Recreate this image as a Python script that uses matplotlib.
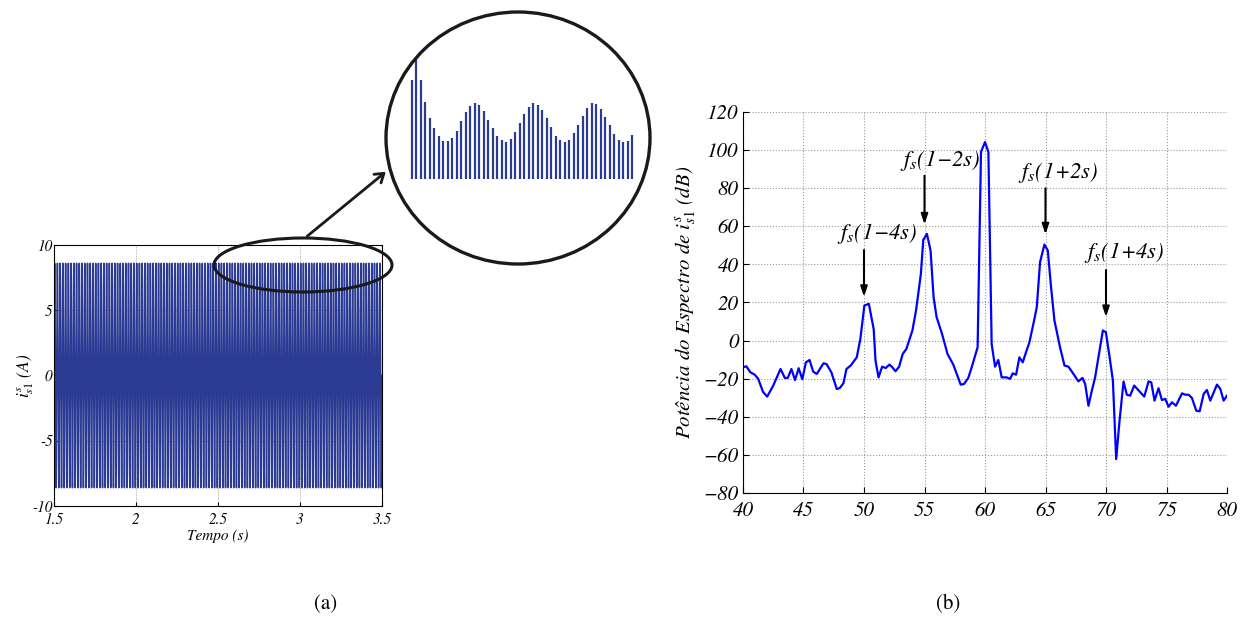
import numpy as np
import matplotlib
matplotlib.use('Agg')
import matplotlib.pyplot as plt
from matplotlib.patches import Ellipse, FancyArrowPatch

plt.rcParams['font.family'] = 'STIXGeneral'
plt.rcParams['mathtext.fontset'] = 'stix'

W, H = 1246, 622

# (a) stator current: 60 Hz supply, peak
f_supply = 60.0
i_peak = 8.6
t_start, t_end = 1.5, 3.5

# zoom inset: positive peaks of the current (relative heights)
inset_peaks = [298, 356, 296, 232, 184, 152, 128, 115, 113, 124, 144, 173, 201, 219,
               228, 221, 204, 178, 153, 130, 117, 111, 120, 141, 168, 196, 215, 228,
               223, 207, 183, 157, 130, 116, 112, 118, 137, 163, 190, 214, 227, 224,
               211, 187, 163, 136, 118, 112, 114, 133]

# (b) spectrum
freq = [40.0, 40.28, 40.6, 40.97, 41.25, 41.66, 42.0, 42.5, 43.1, 43.46, 43.7, 44.0,
        44.3, 44.6, 44.9, 45.2, 45.5, 45.8, 46.1, 46.65, 46.9, 47.3, 47.75, 48.0,
        48.3, 48.55, 48.9, 49.4, 49.7, 50.03, 50.4, 50.8, 50.95, 51.2, 51.5, 51.8,
        52.1, 52.3, 52.6, 52.9, 53.2, 53.5, 54.0, 54.3, 54.7, 54.9, 55.2, 55.5,
        55.75, 56.0, 56.45, 56.9, 57.38, 57.99, 58.26, 58.62, 58.9, 59.39, 59.67,
        60.0, 60.28, 60.55, 60.83, 61.1, 61.38, 61.79, 62.07, 62.29, 62.57, 62.84,
        63.12, 63.39, 63.67, 64.0, 64.28, 64.55, 64.91, 65.19, 65.46, 65.74, 66.2,
        66.57, 66.9, 67.31, 67.72, 68.06, 68.28, 68.55, 68.83, 69.1, 69.74, 69.99,
        70.3, 70.57, 70.84, 71.12, 71.45, 71.72, 72.0, 72.33, 72.83, 73.16, 73.52,
        73.74, 74.01, 74.34, 74.62, 74.9, 75.17, 75.45, 75.78, 76.28, 76.55, 76.83,
        77.1, 77.46, 77.74, 78.07, 78.34, 78.62, 79.17, 79.45, 79.72, 80.0]
power_db = [-14, -13.5, -16.6, -17.9, -20, -27, -29.4, -23.6, -14.9, -19.6, -19.6, -14.9,
            -20.7, -14.5, -20.3, -11.4, -10.2, -16.3, -17.5, -11.9, -12.3, -16.6, -25.4, -24.9,
            -22.4, -14.9, -13.1, -8.8, 0.9, 18.4, 19.3, 6.1, -10.5, -19.3, -13.7, -14.4,
            -12.6, -13.7, -16.1, -13.7, -7, -4.4, 5.3, 15.8, 35, 52.9, 56, 47.3,
            22.8, 12.3, 3.5, -7, -12.6, -23.1, -22.8, -19.6, -14, -3.5, 99,
            104.2, 99, -1.8, -13.7, -10.2, -19.3, -19.3, -20.1, -17.2, -17.9, -8.8,
            -11.4, -6.1, -0.9, 8.8, 17.5, 41.2, 50.4, 47.3, 28, 10.5, -3.5,
            -13.1, -13.7, -17.5, -21.4, -19.6, -22.8, -34.2, -26.3, -19.3, 5.3, 4.4,
            -8.8, -21, -62.2, -42, -21.5, -28.4, -28.9, -23.6, -27.1, -29.4, -21.4,
            -21.9, -31.5, -25, -31.2, -30.6, -34.7, -32.4, -34.2, -27.7, -28.4, -28.4,
            -30.1, -36.8, -37.1, -28, -25.9, -31.5, -23.1, -25.4, -31.5, -28.9]

# annotated sidebands: label, frequency, arrow tail, arrow tip, text x, text y
side_labels = ['(1\u22124s)', '(1\u22122s)', '(1+2s)', '(1+4s)']
side_freq = [50, 55, 65, 70]
arrow_tail = [49, 88, 81.4, 38.5]
arrow_tip = [21.5, 59.5, 54.3, 10.9]
text_x = [47.75, 53.0, 62.75, 68.2]
text_y = [56, 94.5, 88.4, 46.4]


def fig_xy(x, y):
    return x / W, 1 - y / H


fig = plt.figure(figsize=(W / 100, H / 100), dpi=100)

# ============ (a) time signal ============
ax1 = fig.add_axes([54 / W, 1 - 506 / H, 328 / W, 261 / H])
t = np.linspace(t_start, t_end, 24001)
ax1.plot(t, i_peak * np.sin(2 * np.pi * f_supply * t), color='#2b3a92', linewidth=1.1)
ax1.set_xlim(t_start, t_end)
ax1.set_ylim(-10, 10)
ax1.set_xticks([1.5, 2, 2.5, 3, 3.5])
ax1.set_xticklabels(['1.5', '2', '2.5', '3', '3.5'])
ax1.set_yticks([-10, -5, 0, 5, 10])
ax1.set_yticklabels(['-10', '-5', '0', '5', '10'])
ax1.tick_params(direction='in', labelsize=11, length=3, pad=1)
ax1.tick_params(axis='x', pad=5)
for lab in ax1.get_xticklabels() + ax1.get_yticklabels():
    lab.set_style('italic')
ax1.grid(True, color='#888888', linestyle=':', linewidth=0.6)
ax1.set_xlabel('Tempo (s)', fontsize=11, style='italic', labelpad=1)
ax1.set_ylabel(r'$i^s_{s1}$ (A)', fontsize=12.5, style='italic', labelpad=-3)

# ellipse on the plot and zoom circle
cx, cy = fig_xy(303, 265)
fig.add_artist(Ellipse((cx, cy), 178 / W, 54 / H, transform=fig.transFigure,
                       fill=False, edgecolor='#1a1a1a', linewidth=2.2))
cx, cy = fig_xy(518, 138)
fig.add_artist(Ellipse((cx, cy), 264 / W, 252 / H, transform=fig.transFigure,
                       fill=False, edgecolor='#1a1a1a', linewidth=2.4))
fig.add_artist(FancyArrowPatch(fig_xy(305, 238), fig_xy(388, 170),
                               transform=fig.transFigure, arrowstyle='->,head_length=6,head_width=4',
                               color='#1a1a1a', linewidth=2.0))

# inset with peaks
axi = fig.add_axes([407.5 / W, 1 - 179 / H, 229 / W, 140 / H])
axi.vlines(np.arange(len(inset_peaks)), 0, inset_peaks, color='#2b3a92', linewidth=1.6)
axi.set_xlim(-1, 50)
axi.set_ylim(0, 420)
axi.axis('off')

# ============ (b) spectrum ============
ax2 = fig.add_axes([743 / W, 1 - 493 / H, 484 / W, 381 / H])
ax2.plot(freq, power_db, color='#0000ff', linewidth=1.6)
ax2.set_xlim(40, 80)
ax2.set_ylim(-80, 120)
ax2.set_xticks(np.arange(40, 81, 5))
ax2.set_yticks(np.arange(-80, 121, 20))
ax2.tick_params(direction='in', labelsize=15, length=4, pad=3)
ax2.tick_params(axis='x', pad=6)
for lab in ax2.get_xticklabels() + ax2.get_yticklabels():
    lab.set_style('italic')
ax2.spines['top'].set_visible(False)
ax2.spines['right'].set_visible(False)
ax2.grid(True, color='#999999', linestyle=':', linewidth=0.8)
ax2.set_ylabel(r'Potência do Espectro de $i^s_{s1}$ (dB)', fontsize=15, style='italic', labelpad=4)

for lab, f, y0, y1, tx, ty in zip(side_labels, side_freq, arrow_tail, arrow_tip, text_x, text_y):
    ax2.annotate('', xy=(f, y1), xytext=(f, y0),
                 arrowprops=dict(arrowstyle='-|>,head_length=0.6,head_width=0.2',
                                 color='black', linewidth=1.5))
    ax2.text(tx, ty, r'$f_s$' + lab, fontsize=16.5, style='italic', va='center', ha='left')

fig.text(326 / W, 1 - 604 / H, '(a)', fontsize=15, ha='center', va='center')
fig.text(948 / W, 1 - 604 / H, '(b)', fontsize=15, ha='center', va='center')

fig.savefig('out.png', dpi=100)
